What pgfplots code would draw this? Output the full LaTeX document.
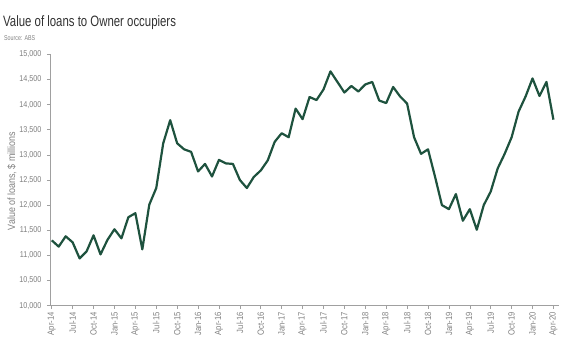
\documentclass[border=0pt]{standalone}
\usepackage{pgfplots}
\pgfplotsset{compat=1.18}
\usepackage{fontspec}
\setmainfont{Liberation Sans}
\newfontfamily\titlefont{Liberation Sans}[FakeStretch=0.76]
\newfontfamily\tickfont{Liberation Sans}[FakeStretch=0.85]
\definecolor{linegreen}{RGB}{30,82,62}
\definecolor{ticktext}{RGB}{128,128,128}
\definecolor{axisgrey}{RGB}{160,160,160}
\definecolor{titlegrey}{RGB}{50,50,50}
\begin{document}
\begin{tikzpicture}[x=1pt,y=1pt]
\begin{axis}[
  at={(50pt,46.3pt)}, anchor=south west,
  scale only axis, width=509pt, height=251.4pt,
  xmin=-0.25, xmax=72.8, ymin=10000, ymax=15000,
  axis x line*=bottom, axis y line*=left,
  axis line style={axisgrey, line width=0.8pt},
  tick style={axisgrey, line width=0.6pt},
  tick align=outside, major tick length=3pt,
  xtick={0,3,...,72},
  xticklabels={Apr-14,Jul-14,Oct-14,Jan-15,Apr-15,Jul-15,Oct-15,Jan-16,Apr-16,Jul-16,Oct-16,Jan-17,Apr-17,Jul-17,Oct-17,Jan-18,Apr-18,Jul-18,Oct-18,Jan-19,Apr-19,Jul-19,Oct-19,Jan-20,Apr-20},
  xticklabel style={rotate=90, anchor=east, font=\tickfont\fontsize{9}{10}\selectfont, text=ticktext},
  ytick={10000,10500,...,15000},
  scaled y ticks=false,
  yticklabel={\pgfmathprintnumber[fixed,precision=0,1000 sep={,},assume math mode=true]{\tick}},
  yticklabel style={font=\tickfont\fontsize{8.5}{10}\selectfont, text=ticktext, xshift=-2pt},
]
\addplot[linegreen, line width=2.2pt, line join=round] coordinates {
(0,11300) (1,11175) (2,11380) (3,11260) (4,10940) (5,11080) (6,11400) (7,11020)
(8,11310) (9,11520) (10,11340) (11,11760) (12,11840) (13,11120) (14,12010) (15,12340)
(16,13230) (17,13690) (18,13230) (19,13110) (20,13060) (21,12670) (22,12820) (23,12570)
(24,12900) (25,12830) (26,12820) (27,12500) (28,12340) (29,12560) (30,12690) (31,12890)
(32,13260) (33,13430) (34,13350) (35,13920) (36,13710) (37,14150) (38,14090) (39,14300)
(40,14660) (41,14450) (42,14240) (43,14370) (44,14260) (45,14400) (46,14450) (47,14080)
(48,14030) (49,14350) (50,14160) (51,14020) (52,13350) (53,13020) (54,13110) (55,12570)
(56,12000) (57,11920) (58,12220) (59,11690) (60,11920) (61,11510) (62,12000) (63,12270)
(64,12730) (65,13020) (66,13350) (67,13860) (68,14160) (69,14520) (70,14170) (71,14450)
(72,13700)
};
\end{axis}
\node[anchor=base west, inner sep=0pt, text=titlegrey, font=\titlefont\fontsize{15}{18}\selectfont] at (3pt,325.3pt) {Value of loans to Owner occupiers};
\node[anchor=base west, inner sep=0pt, text=ticktext, font=\titlefont\fontsize{7}{8}\selectfont] at (4pt,311pt) {Source: ABS};
\node[rotate=90, inner sep=0pt, text=ticktext, font=\tickfont\fontsize{10.5}{12}\selectfont] at (12pt,171pt) {Value of loans, \$ millions};
\pgfresetboundingbox
\path[use as bounding box] (0,0) rectangle (580pt,352pt);
\end{tikzpicture}
\end{document}
